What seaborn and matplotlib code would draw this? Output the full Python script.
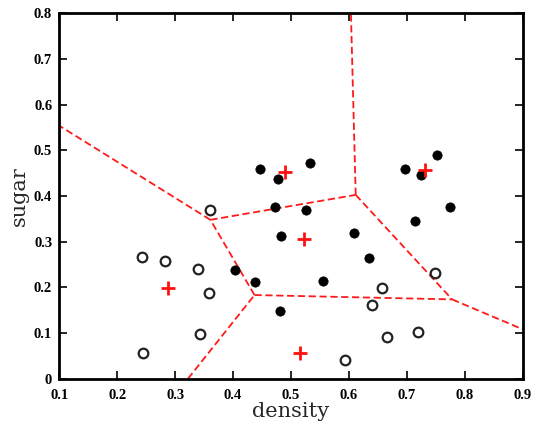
import numpy as np
import pandas as pd
import matplotlib
matplotlib.use("Agg")
import matplotlib.pyplot as plt
import seaborn as sns

# Watermelon data (density, sugar)
density = [0.697, 0.774, 0.634, 0.608, 0.556, 0.403, 0.481, 0.437, 0.666, 0.243,
           0.245, 0.343, 0.639, 0.657, 0.360, 0.593, 0.719, 0.359, 0.339, 0.282,
           0.748, 0.714, 0.483, 0.478, 0.525, 0.751, 0.532, 0.473, 0.725, 0.446]
sugar = [0.460, 0.376, 0.264, 0.318, 0.215, 0.237, 0.149, 0.211, 0.091, 0.267,
         0.057, 0.099, 0.161, 0.198, 0.370, 0.042, 0.103, 0.188, 0.241, 0.257,
         0.232, 0.346, 0.312, 0.437, 0.369, 0.489, 0.472, 0.376, 0.445, 0.459]
label = ["c1"] * 8 + ["c2"] * 13 + ["c1"] * 9

# prototype vectors (red +)
proto_x = [0.2885, 0.490, 0.731, 0.522, 0.515]
proto_y = [0.198, 0.453, 0.458, 0.306, 0.056]

x_ticks = [0.1, 0.2, 0.3, 0.4, 0.5, 0.6, 0.7, 0.8, 0.9]
y_ticks = [0, 0.1, 0.2, 0.3, 0.4, 0.5, 0.6, 0.7, 0.8]
x_tick_labels = ["0.1", "0.2", "0.3", "0.4", "0.5", "0.6", "0.7", "0.8", "0.9"]
y_tick_labels = ["0", "0.1", "0.2", "0.3", "0.4", "0.5", "0.6", "0.7", "0.8"]

df = pd.DataFrame({"density": density, "sugar": sugar, "label": label})
pf = pd.DataFrame({"density": proto_x, "sugar": proto_y})

sns.set_theme(style="white")
fig = plt.figure(figsize=(5.33, 4.28), dpi=100)
ax = fig.add_axes([0.111, 0.115, 0.870, 0.854])

xmin, xmax, ymin, ymax = 0.1, 0.9, 0.0, 0.8

# Voronoi boundaries of the prototypes (half-plane clipping of bisectors)
P = np.column_stack([proto_x, proto_y])
n = len(P)
for i in range(n):
    for j in range(i + 1, n):
        pi, pj = P[i], P[j]
        m = (pi + pj) / 2
        d = np.array([-(pj - pi)[1], (pj - pi)[0]])
        tlo, thi = -1e9, 1e9
        cons = [(d[0], xmax - m[0]), (-d[0], m[0] - xmin),
                (d[1], ymax - m[1]), (-d[1], m[1] - ymin)]
        for k in range(n):
            if k in (i, j):
                continue
            pk = P[k]
            g = 2 * (pk - pi)
            rhs = pk @ pk - pi @ pi
            cons.append((g @ d, rhs - g @ m))
        ok = True
        for a, b in cons:
            if abs(a) < 1e-12:
                if b < 0:
                    ok = False
                continue
            if a > 0:
                thi = min(thi, b / a)
            else:
                tlo = max(tlo, b / a)
        if ok and tlo < thi:
            p0 = m + tlo * d
            p1 = m + thi * d
            ax.plot([p0[0], p1[0]], [p0[1], p1[1]], color="#ff1a1a",
                    linestyle=(0, (4, 2)), linewidth=1.3, zorder=1)

sns.scatterplot(data=df[df.label == "c1"], x="density", y="sugar", ax=ax,
                color="black", s=45, edgecolor="black", linewidth=0.5, zorder=3)
sns.scatterplot(data=df[df.label == "c2"], x="density", y="sugar", ax=ax,
                facecolor="white", s=48, edgecolor="#222222", linewidth=1.6, zorder=3)
sns.scatterplot(data=pf, x="density", y="sugar", ax=ax, marker="+",
                color="#ff1010", s=110, linewidth=2.0, zorder=4)

ax.set_xlim(xmin, xmax)
ax.set_ylim(ymin, ymax)
ax.set_xticks(x_ticks)
ax.set_yticks(y_ticks)
ax.set_xticklabels(x_tick_labels, fontfamily="Liberation Serif", fontweight="bold", fontsize=10.5)
ax.set_yticklabels(y_tick_labels, fontfamily="Liberation Serif", fontweight="bold", fontsize=10.5)
ax.tick_params(direction="in", length=6, width=1.2, top=True, right=True,
               bottom=True, left=True, colors="black")
ax.tick_params(axis="x", pad=7)
ax.tick_params(axis="y", pad=5)
for s in ax.spines.values():
    s.set_linewidth(2)
    s.set_color("black")
ax.set_xlabel("density", fontfamily="DejaVu Serif", fontsize=15, labelpad=0)
ax.set_ylabel("sugar", fontfamily="DejaVu Serif", fontsize=15, labelpad=4)
ax.grid(False)

fig.savefig("out.png", dpi=100)
